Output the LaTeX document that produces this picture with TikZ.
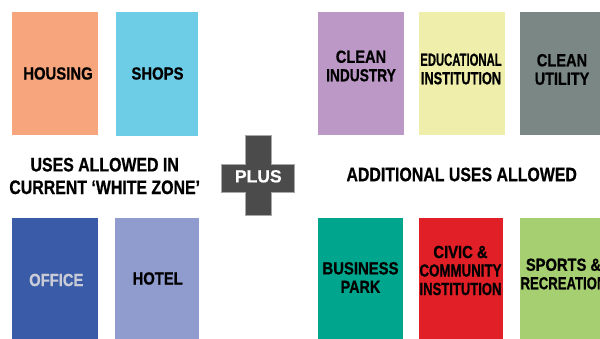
\documentclass[tikz,border=0pt]{standalone}
\usepackage{fontspec}
\setmainfont{Liberation Sans}[BoldFeatures={FakeBold=0.8}]
\usepackage{graphicx}
\newcommand{\sx}[2]{\scalebox{#1}[1]{#2}}
\definecolor{cHousing}{HTML}{F7A57D}
\definecolor{cShops}{HTML}{6DCDE6}
\definecolor{cIndustry}{HTML}{BB98C6}
\definecolor{cEdu}{HTML}{EFEEAA}
\definecolor{cUtility}{HTML}{7A8784}
\definecolor{cOffice}{HTML}{3A5BA8}
\definecolor{cHotel}{HTML}{909BCE}
\definecolor{cBusiness}{HTML}{00A58E}
\definecolor{cCivic}{HTML}{E11F27}
\definecolor{cSports}{HTML}{A6CF72}
\definecolor{cOfficeText}{HTML}{C9CCD6}
\definecolor{cPlus}{HTML}{4B4B4B}
\definecolor{cPlusEdge}{HTML}{A8A8A8}
\begin{document}
\begin{tikzpicture}[x=1pt,y=-1pt,
  box/.style={draw=none, inner sep=0pt, outer sep=0pt, anchor=north west, minimum width=86pt},
  toprow/.style={box, minimum height=123pt},
  botrow/.style={box, minimum height=125pt},
  lbl/.style={font=\fontsize{17.5}{18.5}\selectfont\bfseries, align=center, inner sep=0pt, text=black},
  head/.style={font=\fontsize{19.5}{22.6}\selectfont\bfseries, align=center, inner sep=0pt, text=black}]
\useasboundingbox (0,0) rectangle (600,338);
\clip (0,0) rectangle (600,338);

% top row
\node[toprow, fill=cHousing] (housing) at (12,12) {};
\node[toprow, fill=cShops, minimum width=82pt, minimum height=124pt] (shops) at (116,12) {};
\node[toprow, fill=cIndustry] (industry) at (318,12) {};
\node[toprow, fill=cEdu] (edu) at (419,12) {};
\node[toprow, fill=cUtility] (utility) at (520,12) {};

% bottom row
\node[botrow, fill=cOffice] (office) at (12,218) {};
\node[botrow, fill=cHotel, minimum width=84pt] (hotel) at (115,218) {};
\node[botrow, fill=cBusiness, minimum width=85pt] (business) at (318,218) {};
\node[botrow, fill=cCivic, minimum width=84pt] (civic) at (419,218) {};
\node[botrow, fill=cSports] (sports) at (520,218) {};

% labels
\node[lbl] (housing-t) at (58,73.5) {\sx{.85}{HOUSING}};
\node[lbl] (shops-t) at (157.5,73.5) {\sx{.85}{SHOPS}};
\node[lbl] (industry-t) at (361,66) {\sx{.835}{CLEAN}\\\sx{.785}{INDUSTRY}};
\node[lbl] (edu-t) at (461,69) {\sx{.645}{EDUCATIONAL}\\\sx{.73}{INSTITUTION}};
\node[lbl] (utility-t) at (562,69.5) {\sx{.835}{CLEAN}\\\sx{.825}{UTILITY}};
\node[lbl, text=cOfficeText] (office-t) at (56.3,280) {\sx{.845}{OFFICE}};
\node[lbl] (hotel-t) at (157.7,278.5) {\sx{.845}{HOTEL}};
\node[lbl] (business-t) at (360.5,277.5) {\sx{.85}{BUSINESS}\\\sx{.82}{PARK}};
\node[lbl] (civic-t) at (460.5,270.5) {\sx{.845}{CIVIC \&}\\\sx{.76}{COMMUNITY}\\\sx{.745}{INSTITUTION}};
\node[lbl] (sports-t) at (563.5,274) {\sx{.84}{SPORTS \&}\\\sx{.75}{RECREATION}};

% headings
\node[head] (current) at (104.7,176) {\sx{.815}{USES ALLOWED IN}\\\sx{.815}{CURRENT ‘WHITE ZONE’}};
\node[head] (additional) at (461.7,174.5) {\sx{.815}{ADDITIONAL USES ALLOWED}};

% plus sign
\filldraw[fill=cPlus, draw=cPlusEdge, line width=0.6pt]
  (245,135) -- (271,135) -- (271,164) -- (294,164) -- (294,192) -- (271,192)
  -- (271,215) -- (245,215) -- (245,192) -- (221,192) -- (221,164) -- (245,164) -- cycle;
\node[lbl, text=white] (plus) at (258.3,176.3) {PLUS};
\end{tikzpicture}
\end{document}
